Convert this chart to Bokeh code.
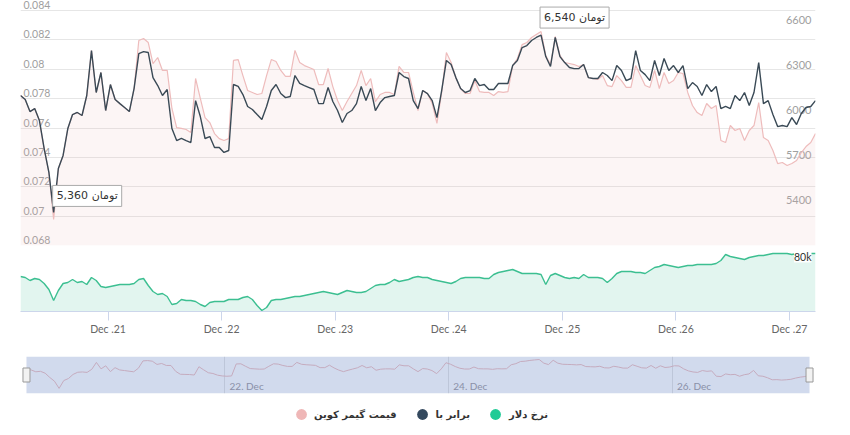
import pandas as pd
import numpy as np
from bokeh.plotting import figure
from bokeh.layouts import column
from bokeh.models import (Range1d, FixedTicker, DaysTicker, DatetimeTickFormatter,
                          ColumnDataSource, LabelSet, Label, BoxAnnotation, Legend, LegendItem)
from bokeh.core.properties import value
from bokeh.embed import file_html
from bokeh.resources import INLINE

# ---------------- data (hourly) ----------------
start_time = "2024-12-20 05:30"
times = pd.date_range(start_time, periods=169, freq="h")

# قیمت گیمر کوین (USD)
gamer_price = [
    0.07821, 0.07794, 0.07712, 0.07733, 0.07651, 0.07460, 0.07297, 0.06977, 0.07324, 0.07413,
    0.07597, 0.07692, 0.07705, 0.07685, 0.07821, 0.08128, 0.07842, 0.07978, 0.07719, 0.07896,
    0.07794, 0.07767, 0.07739, 0.07712, 0.07869, 0.08196, 0.08209, 0.08182, 0.08039, 0.08080,
    0.07992, 0.07992, 0.07733, 0.07603, 0.07597, 0.07590, 0.07569, 0.07937, 0.07801, 0.07671,
    0.07637, 0.07562, 0.07528, 0.07515, 0.07528, 0.08060, 0.08066, 0.07957, 0.07855, 0.07842,
    0.07828, 0.07835, 0.07957, 0.08066, 0.08053, 0.07992, 0.07951, 0.07951, 0.08128, 0.08046,
    0.08025, 0.08012, 0.07998, 0.07896, 0.07896, 0.08005, 0.07882, 0.07787, 0.07719, 0.07780,
    0.07835, 0.07889, 0.07992, 0.07889, 0.07937, 0.07780, 0.07828, 0.07842, 0.07842, 0.07828,
    0.08019, 0.07978, 0.07978, 0.07842, 0.07719, 0.07855, 0.07835, 0.07767, 0.07631, 0.07842,
    0.08114, 0.08046, 0.07944, 0.07869, 0.07835, 0.07835, 0.07923, 0.07848, 0.07842, 0.07842,
    0.07821, 0.07848, 0.07842, 0.07848, 0.08025, 0.08073, 0.08168, 0.08182, 0.08216, 0.08237,
    0.08257, 0.08094, 0.08032, 0.08223, 0.08094, 0.08046, 0.08039, 0.08032, 0.08019, 0.08032,
    0.07944, 0.07937, 0.07930, 0.07957, 0.07889, 0.07882, 0.07957, 0.07923, 0.07876, 0.07876,
    0.08025, 0.07957, 0.07889, 0.07876, 0.07992, 0.07869, 0.07978, 0.07903, 0.07923, 0.07978,
    0.07971, 0.07842, 0.07753, 0.07705, 0.07685, 0.07767, 0.07733, 0.07753, 0.07515, 0.07501,
    0.07617, 0.07583, 0.07597, 0.07515, 0.07583, 0.07617, 0.07773, 0.07535, 0.07515, 0.07447,
    0.07358, 0.07365, 0.07345, 0.07358, 0.07379, 0.07433, 0.07474, 0.07501, 0.07562,
]

# برابر با (Toman)
toman_equiv = [
    6138, 6111, 6031, 6051, 5971, 5785, 5626, 5360, 5652, 5739,
    5918, 6011, 6025, 6005, 6138, 6437, 6158, 6291, 6038, 6211,
    6111, 6084, 6058, 6031, 6184, 6417, 6430, 6424, 6257, 6204,
    6138, 6178, 5918, 5838, 5852, 5838, 5825, 6104, 5998, 5852,
    5865, 5792, 5792, 5759, 5772, 6211, 6198, 6144, 6065, 6045,
    6011, 5978, 6065, 6171, 6211, 6151, 6124, 6131, 6271, 6218,
    6204, 6191, 6178, 6084, 6084, 6191, 6098, 6038, 5958, 6018,
    6038, 6084, 6198, 6104, 6184, 6038, 6091, 6124, 6131, 6138,
    6291, 6264, 6251, 6104, 6051, 6171, 6151, 6104, 5991, 6171,
    6371, 6344, 6257, 6184, 6158, 6171, 6251, 6204, 6211, 6178,
    6178, 6218, 6218, 6218, 6337, 6371, 6457, 6470, 6504, 6524,
    6540, 6397, 6331, 6524, 6397, 6357, 6324, 6317, 6317, 6344,
    6257, 6251, 6251, 6291, 6271, 6237, 6337, 6304, 6237, 6251,
    6437, 6304, 6277, 6237, 6371, 6271, 6384, 6304, 6337, 6291,
    6337, 6184, 6224, 6198, 6138, 6211, 6164, 6198, 6051, 6065,
    6051, 6138, 6104, 6158, 6071, 6158, 6357, 6084, 6104, 6011,
    5931, 5938, 5931, 5991, 5945, 6018, 6058, 6065, 6104,
]

# نرخ دلار (Toman per USD)
dollar_rate = [
    78500, 78400, 78100, 78300, 78200, 77800, 77200, 76100, 77100, 77800,
    77900, 78200, 77900, 78000, 77700, 78400, 78100, 77500, 77400, 77500,
    77600, 77700, 77700, 77700, 77800, 78200, 78300, 77600, 77000, 76700,
    76800, 76500, 75700, 75800, 76200, 76100, 76100, 76000, 75700, 75500,
    75900, 76000, 76000, 76000, 76200, 76200, 76200, 76400, 76500, 76200,
    75600, 75100, 75400, 76100, 76200, 76200, 76300, 76400, 76500, 76500,
    76600, 76700, 76800, 76900, 77000, 76900, 76800, 76700, 76900, 77100,
    77000, 76900, 76900, 77000, 77300, 77600, 77700, 77700, 77900, 78200,
    78000, 78100, 78200, 78400, 78500, 78400, 78400, 78200, 78100, 78000,
    77900, 77800, 78000, 78300, 78400, 78400, 78400, 78400, 78300, 78300,
    78700, 78900, 79000, 79100, 79200, 79000, 78800, 78800, 78800, 78800,
    78700, 77700, 78600, 78800, 78600, 78400, 78300, 78400, 78300, 78700,
    78400, 78400, 78400, 78300, 77900, 78300, 78800, 79000, 79000, 79000,
    78900, 78900, 78800, 79100, 79400, 79500, 79700, 79600, 79500, 79400,
    79500, 79600, 79600, 79700, 79700, 79700, 79700, 79800, 80100, 80700,
    80500, 80400, 80300, 80200, 80400, 80500, 80600, 80600, 80700, 80800,
    80800, 80800, 80800, 80700, 80800, 80800, 80800, 80800, 80800,
]

left_ticks = [0.068, 0.070, 0.072, 0.074, 0.076, 0.078, 0.080, 0.082, 0.084]
left_labels = ["0.068", "0.07", "0.072", "0.074", "0.076", "0.078", "0.08", "0.082", "0.084"]
right_ticks = [5400, 5700, 6000, 6300, 6600]
right_labels = ["5400", "5700", "6000", "6300", "6600"]
rate_ticks = [80000]
rate_labels = ["80k"]
nav_tick_dates = ["2024-12-22", "2024-12-24", "2024-12-26"]
nav_tick_labels = ["22. Dec", "24. Dec", "26. Dec"]
legend_labels = ["قیمت گیمر کوین", "برابر با", "نرخ دلار"]

# ---------------- styling ----------------
PINK_LINE = "#eebcbc"
PINK_FILL = "#e8b0b0"
PINK_DOT = "#efb7b7"
DARK_LINE = "#3a4a56"
DARK_DOT = "#34495e"
GREEN_LINE = "#3cbf91"
GREEN_DOT = "#1fcb96"
LABEL_GRAY = "#a0a0a0"
LATIN = "Lato"
PERSIAN = "DejaVu Sans"

t0 = times[0]
t1 = times[-1]
src = ColumnDataSource(dict(t=times, price=gamer_price, toman=toman_equiv, rate=dollar_rate))

W = 842

# ---------------- main panel ----------------
# frame runs to the very top; the ranges reach a little beyond the top tick
price_range = Range1d(left_ticks[0], 0.084681)
p = figure(width=W, height=247, x_axis_type="datetime", x_range=Range1d(t0, t1),
           y_range=price_range, x_axis_location=None, y_axis_location=None,
           toolbar_location=None, output_backend="svg",
           min_border_left=20, min_border_right=27, min_border_top=0, min_border_bottom=2,
           outline_line_color=None, background_fill_color="white", border_fill_color="white")
p.extra_y_ranges = {"toman": Range1d(5140, 6770)}
p.xgrid.visible = False
p.ygrid.ticker = FixedTicker(ticks=left_ticks)
p.ygrid.grid_line_color = "#e6e6e6"
p.ygrid.grid_line_width = 1

p.varea(x="t", y1=price_range.start, y2="price", source=src,
        fill_color=PINK_FILL, fill_alpha=0.13)
p.line("t", "price", source=src, line_color=PINK_LINE, line_width=1.2)
p.line("t", "toman", source=src, y_range_name="toman", line_color=DARK_LINE, line_width=1.4)

lsrc = ColumnDataSource(dict(x=[t0] * len(left_ticks), y=left_ticks, text=left_labels))
p.add_layout(LabelSet(x="x", y="y", text="text", source=lsrc, x_offset=3, y_offset=1.5,
                      text_baseline="alphabetic", text_align="left", text_font=value(LATIN),
                      text_font_size="10.5px", text_color=LABEL_GRAY, level="underlay"))
rsrc = ColumnDataSource(dict(x=[t1] * len(right_ticks), y=right_ticks, text=right_labels))
p.add_layout(LabelSet(x="x", y="y", text="text", source=rsrc, y_range_name="toman",
                      x_offset=-4, y_offset=2, text_baseline="alphabetic", text_align="right",
                      text_font=value(LATIN), text_font_size="11px", text_color=LABEL_GRAY,
                      level="underlay"))

# flag labels at min / max of the toman series
arr = np.array(toman_equiv)
for idx, dy in ((int(arr.argmin()), 6), (int(arr.argmax()), 7)):
    p.add_layout(Label(x=times[idx].timestamp() * 1000, y=toman_equiv[idx], y_range_name="toman",
                       text=f"{toman_equiv[idx]:,} تومان", text_align="left", text_baseline="bottom",
                       x_offset=-1, y_offset=dy, padding=4, text_font=PERSIAN, text_font_size="11px",
                       text_color="#333333", background_fill_color="white",
                       border_line_color="#aaaaaa", border_line_width=1))

# ---------------- dollar rate panel ----------------
d = figure(width=W, height=100, x_axis_type="datetime", x_range=p.x_range,
           y_range=Range1d(75000, 81200), y_axis_location=None, x_axis_location="below",
           toolbar_location=None, output_backend="svg",
           min_border_left=20, min_border_right=27, min_border_top=2, min_border_bottom=36,
           outline_line_color=None, background_fill_color="white", border_fill_color="white")
d.xgrid.visible = False
d.ygrid.visible = False
d.varea(x="t", y1=d.y_range.start, y2="rate", source=src, fill_color=GREEN_LINE, fill_alpha=0.15)
d.line("t", "rate", source=src, line_color=GREEN_LINE, line_width=1.4)
ax = d.xaxis[0]
ax.ticker = DaysTicker(days=list(range(1, 32)))
ax.formatter = DatetimeTickFormatter(days="%b .%d", months="%b .%d", hours="%b .%d")
ax.axis_line_color = "#ccd6eb"
ax.major_tick_line_color = "#ccd6eb"
ax.major_tick_out = 9
ax.major_tick_in = 0
ax.minor_tick_line_color = None
ax.major_label_standoff = 2
ax.major_label_text_font = LATIN
ax.major_label_text_font_size = "10.5px"
ax.major_label_text_color = "#666666"
rtsrc = ColumnDataSource(dict(x=[t1] * len(rate_ticks), y=rate_ticks, text=rate_labels))
d.add_layout(LabelSet(x="x", y="y", text="text", source=rtsrc, x_offset=-4, y_offset=1,
                      text_baseline="alphabetic", text_align="right", text_font=value(LATIN),
                      text_font_size="10.5px", text_color="#333333",
                      background_fill_color="white"))

# ---------------- navigator ----------------
pad = pd.Timedelta(minutes=77)
n = figure(width=W, height=53, x_axis_type="datetime", x_range=Range1d(t0 - pad, t1 + pad),
           y_range=Range1d(0.0675, 0.0839), x_axis_location=None, y_axis_location=None,
           toolbar_location=None, output_backend="svg",
           min_border_left=19, min_border_right=23, min_border_top=9, min_border_bottom=7,
           outline_line_color=None, background_fill_color="white", border_fill_color="white")
nav_ticks_ms = [pd.Timestamp(s).timestamp() * 1000 for s in nav_tick_dates]
n.ygrid.visible = False
n.xgrid.ticker = FixedTicker(ticks=nav_ticks_ms)
n.xgrid.grid_line_color = "#e2e2e2"
n.line("t", "price", source=src, line_color=PINK_LINE, line_width=1)
n.add_layout(BoxAnnotation(left=t0.timestamp() * 1000, right=t1.timestamp() * 1000,
                           fill_color="#6685c2", fill_alpha=0.3, line_color=None))
ymid = (n.y_range.start + n.y_range.end) / 2
h = n.rect(x=[t0, t1], y=[ymid, ymid], width=7, height=14, width_units="screen",
           height_units="screen", fill_color="#f2f2f2", line_color="#999999")
h.level = "overlay"
nsrc = ColumnDataSource(dict(x=nav_ticks_ms, y=[n.y_range.start] * len(nav_ticks_ms), text=nav_tick_labels))
n.add_layout(LabelSet(x="x", y="y", text="text", source=nsrc, x_offset=5, y_offset=4,
                      text_baseline="alphabetic", text_align="left", text_font=value(LATIN),
                      text_font_size="10px", text_color="#8a90a8", level="overlay"))

# ---------------- legend ----------------
lg = figure(width=W, height=27, x_range=Range1d(0, 1), y_range=Range1d(0, 1),
            x_axis_location=None, y_axis_location=None, toolbar_location=None,
            output_backend="svg", min_border=0, outline_line_color=None,
            background_fill_color="white", border_fill_color="white")
lg.xgrid.visible = False
lg.ygrid.visible = False
items = []
for lab, col, fld in zip(legend_labels, [PINK_DOT, DARK_DOT, GREEN_DOT], ["price", "toman", "rate"]):
    # series points fall far outside this legend-only frame; only the legend swatch shows
    r = lg.scatter(x="t", y=fld, source=src, marker="circle", fill_color=col, line_color=None)
    items.append(LegendItem(label=lab, renderers=[r]))
leg = Legend(items=items, orientation="horizontal", location="center",
             glyph_width=27, glyph_height=27, label_standoff=0, spacing=12,
             padding=0, margin=0, border_line_color=None, background_fill_alpha=0,
             label_text_font=PERSIAN, label_text_font_style="bold",
             label_text_font_size="10px", label_text_color="#333333")
lg.add_layout(leg, "center")

layout = column(p, d, n, lg)
open("out.html", "w").write(file_html(layout, INLINE))
